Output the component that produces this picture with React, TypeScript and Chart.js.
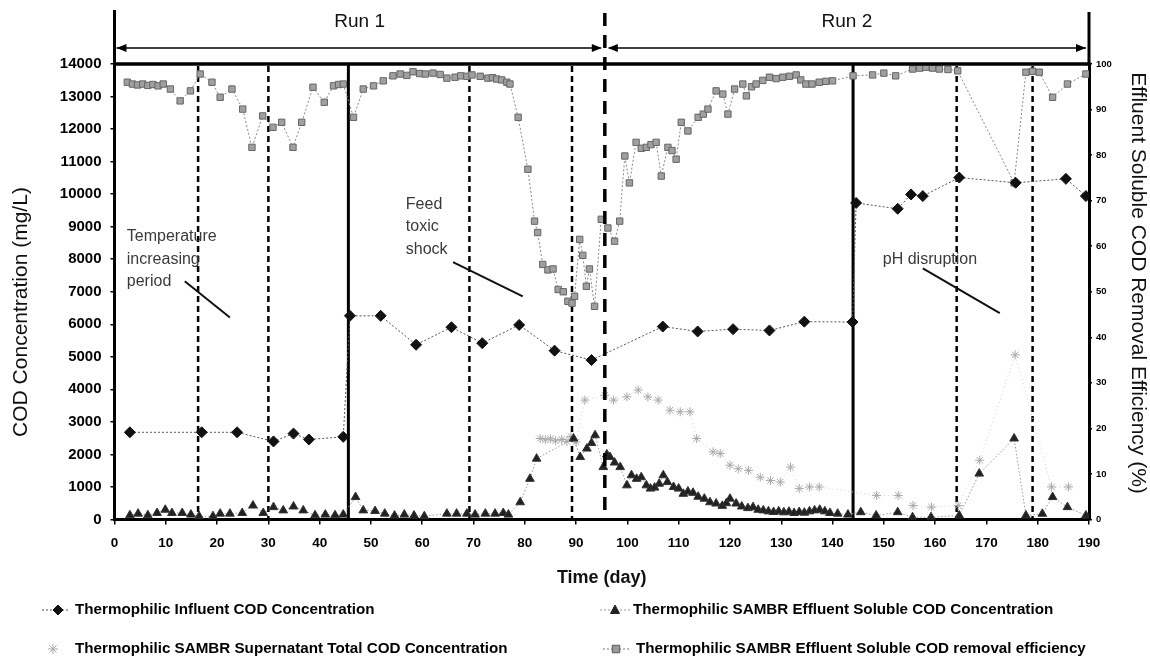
import React, { useEffect, useRef } from 'react';
import { Chart, registerables } from 'chart.js';

Chart.register(...registerables);

// ---- data ----
const influentDays = [3, 17, 23.9, 31, 34.9, 37.9, 44.6, 45.9, 51.9, 58.8, 65.7, 71.7, 78.9, 85.8, 93, 106.9, 113.7, 120.6, 127.7, 134.5, 143.9, 144.6, 152.7, 155.3, 157.6, 164.7, 175.7, 185.5, 189.4];
const influentCOD = [2680, 2680, 2680, 2400, 2640, 2460, 2540, 6260, 6260, 5370, 5910, 5420, 5980, 5190, 4900, 5930, 5780, 5850, 5810, 6080, 6070, 9730, 9550, 9990, 9940, 10510, 10350, 10470, 9940];

const effluentDays = [3, 4.6, 6.5, 8.3, 9.9, 11.2, 13.2, 14.9, 16.5, 19.2, 20.6, 22.5, 24.9, 27, 29, 31, 32.9, 34.9, 36.8, 39.1, 41.1, 43, 44.6,
  47, 48.5, 50.8, 52.7, 54.6, 56.5, 58.4, 60.4, 64.8, 66.7, 68.7, 70.3, 72.3, 74.2, 75.8, 76.8, 79.1, 81, 82.3,
  89.5, 90.8, 92.1, 93, 93.7, 95.3, 96, 96.6, 97.5, 98.6, 99.9, 100.8, 101.8, 102.7, 103.7, 104.5, 105.3, 106.2, 107, 107.8, 109, 110, 110.9, 111.8, 112.8, 113.8, 115, 116.1, 117.3, 118.5, 119.3, 120, 121.2, 122.3, 123.5, 124.5, 125.5, 126.5, 127.5, 128.5, 129.5, 130.5, 131.5, 132.5, 133.5, 134.5, 135.5, 136.5, 137.5, 138.5, 139.5, 141, 143,
  145.5, 148.5, 152.7, 155.6, 159.2, 164.7, 168.6, 175.4, 177.7, 180.9, 182.9, 185.8, 189.4];
const effluentCOD = [130, 180, 130, 200, 300, 200, 200, 150, 100, 100, 180, 180, 200, 430, 200, 380, 280, 400, 280, 130, 150, 130, 150,
  690, 280, 260, 180, 120, 150, 120, 100, 180, 180, 180, 150, 180, 180, 200, 150, 530, 1250, 1870,
  2490, 1920, 2180, 2350, 2590, 1610, 2000, 1920, 1750, 1610, 1050, 1360, 1250, 1300, 1050, 950, 980, 1100, 1360, 1150, 1000, 950, 790, 860, 820, 700, 640, 530, 490, 420, 500, 640, 490, 400, 350, 380, 300, 280, 250, 230, 250, 220, 240, 200, 230, 210, 250, 280, 300, 250, 200, 180, 150,
  225, 123, 225, 71, 71, 123, 1410, 2490, 123, 176, 690, 380, 123];

const supernatantDays = [83, 84, 85, 86, 87.2, 88.2, 89, 90, 91.7, 95.6, 97.3, 99.9, 102.1, 104, 106, 108.3, 110.3, 112.2, 113.5, 116.7, 118.1, 120, 121.6, 123.6, 125.9, 127.9, 129.8, 131.8, 133.5, 135.5, 137.4,
  148.6, 152.8, 155.7, 159.3, 164.5, 168.7, 175.6, 182.7, 186];
const supernatantCOD = [2490, 2450, 2480, 2420, 2460, 2400, 2550, 2380, 3670, 3820, 3670, 3770, 3980, 3770, 3670, 3360, 3310, 3310, 2490, 2080, 2030, 1670, 1560, 1510, 1300, 1200, 1150, 1610, 950, 1000, 1000,
  740, 740, 430, 380, 430, 1820, 5060, 1000, 1000];

const removalDays = [2.5, 3.5, 4.5, 5.5, 6.5, 7.5, 8.5, 9.5, 10.9, 12.8, 14.8, 16.7, 19, 20.6, 22.9, 25, 26.8, 28.9, 30.9, 32.6, 34.8, 36.5, 38.7, 40.9, 42.7, 43.7, 44.6,
  46.6, 48.5, 50.5, 52.4, 54.3, 55.7, 57, 58.2, 59.5, 60.6, 62.1, 63.5, 64.8, 66.4, 67.5, 68.7, 69.7, 71.3, 72.8, 73.7, 74.5, 75.5, 76.5, 77.1, 78.7, 80.6, 81.9, 82.5, 83.5, 84.5, 85.5, 86.5, 87.5, 88.4, 89.2, 89.7, 90.7, 91.3, 92, 92.6, 93.6, 94.9,
  96.2, 97.5, 98.5, 99.5, 100.4, 101.7, 102.7, 103.7, 104.6, 105.6, 106.6, 107.9, 108.7, 109.5, 110.5, 111.8, 113.8, 114.8, 115.7, 117.3, 118.6, 119.6, 120.9, 122.5, 123.2, 124.2, 125.1, 126.4, 127.7, 129, 130.3, 131.6, 132.9, 133.8, 134.8, 136, 137.4, 138.7, 140, 144,
  147.8, 150, 152.3, 155.6, 157, 158.2, 159.5, 160.8, 162.5, 164.4, 175.4, 177.7, 179, 180.3, 182.9, 185.8, 189.4];
const removalEff = [96.0, 95.6, 95.4, 95.6, 95.3, 95.5, 95.2, 95.6, 94.5, 91.9, 94.1, 97.8, 96.0, 92.7, 94.5, 90.1, 81.7, 88.6, 86.1, 87.2, 81.7, 87.2, 94.9, 91.6, 95.2, 95.5, 95.6,
  88.3, 94.5, 95.2, 96.3, 97.4, 97.8, 97.5, 98.3, 97.9, 97.8, 98.0, 97.7, 96.9, 97.1, 97.4, 97.3, 97.6, 97.3, 96.9, 97.0, 96.7, 96.5, 96.0, 95.6, 88.3, 76.9, 65.5, 63, 56, 54.8, 55, 50.5, 50, 47.9, 47.5, 49.0, 61.5, 58, 51.2, 55, 46.8, 65.9,
  64, 61.1, 65.5, 79.8, 73.9, 82.8, 81.5, 81.7, 82.3, 82.8, 75.4, 81.7, 81, 79.1, 87.2, 85.3, 88.3, 89, 90.1, 94.1, 93.4, 89.0, 94.5, 95.6, 93.0, 95, 95.6, 96.4, 97.1, 96.8, 97.1, 97.3, 97.6, 96.5, 95.6, 95.6, 96.0, 96.2, 96.3, 97.4,
  97.6, 98, 97.4, 98.9, 99.1, 99.3, 99.1, 98.9, 98.8, 98.5, 73.9, 98.2, 98.4, 98.2, 92.7, 95.6, 97.8];

// operating periods and events (days)
const phaseBoundaryDays = [45.6, 144];
const eventDays = [16.3, 30, 69.2, 89.2, 164.2, 179];
const runDividerDay = 95.6;
const runNames = ['Run 1', 'Run 2'];

const seriesNames = [
  'Thermophilic Influent COD Concentration',
  'Thermophilic SAMBR Effluent Soluble COD Concentration',
  'Thermophilic SAMBR Supernatant Total COD Concentration',
  'Thermophilic SAMBR Effluent Soluble COD removal efficiency',
];

// event notes: text lines anchored in (day, mg/L), pointer line endpoints
const notes = [
  { lines: ['Temperature', 'increasing', 'period'], day: 2.4, cod: [8710, 8000, 7320], from: [13.7, 7320], to: [22.5, 6210] },
  { lines: ['Feed', 'toxic', 'shock'], day: 56.8, cod: [9670, 8990, 8310], from: [66, 7910], to: [79.6, 6860] },
  { lines: ['pH disruption'], day: 149.8, cod: [8000], from: [157.6, 7720], to: [172.6, 6340] },
];

const pts = (xs: number[], ys: number[]) => xs.map((x, i) => ({ x, y: ys[i] }));

function hasFont(ctx: CanvasRenderingContext2D, family: string) {
  const s = 'abcdefghijklmnopqrstuvwxyz0123456789';
  ctx.font = `20px "${family}", monospace`;
  const a = ctx.measureText(s).width;
  ctx.font = '20px monospace';
  const b = ctx.measureText(s).width;
  return Math.abs(a - b) > 0.5;
}

function marker(ctx: CanvasRenderingContext2D, kind: string, x: number, y: number, r: number, fill: string, stroke: string) {
  ctx.save();
  ctx.fillStyle = fill;
  ctx.strokeStyle = stroke;
  ctx.lineWidth = 1;
  ctx.setLineDash([]);
  ctx.beginPath();
  if (kind === 'diamond') {
    ctx.moveTo(x, y - r); ctx.lineTo(x + r, y); ctx.lineTo(x, y + r); ctx.lineTo(x - r, y); ctx.closePath();
    ctx.fill(); ctx.stroke();
  } else if (kind === 'triangle') {
    ctx.moveTo(x, y - r); ctx.lineTo(x + r * 0.9, y + r * 0.7); ctx.lineTo(x - r * 0.9, y + r * 0.7); ctx.closePath();
    ctx.fill(); ctx.stroke();
  } else if (kind === 'square') {
    ctx.rect(x - r * 0.75, y - r * 0.75, r * 1.5, r * 1.5);
    ctx.fill(); ctx.stroke();
  } else {
    for (let k = 0; k < 4; k++) {
      const ang = (k * Math.PI) / 4;
      ctx.moveTo(x - Math.cos(ang) * r, y - Math.sin(ang) * r);
      ctx.lineTo(x + Math.cos(ang) * r, y + Math.sin(ang) * r);
    }
    ctx.stroke();
  }
  ctx.restore();
}

const overlayPlugin = {
  id: 'overlay',
  beforeDatasetsDraw(chart: any) {
    const { ctx, chartArea: a, scales } = chart;
    const xs = scales.x;
    ctx.save();
    ctx.strokeStyle = '#000';
    ctx.lineWidth = 3;
    phaseBoundaryDays.forEach((d) => {
      const px = xs.getPixelForValue(d);
      ctx.beginPath(); ctx.moveTo(px, a.top); ctx.lineTo(px, a.bottom); ctx.stroke();
    });
    ctx.lineWidth = 2.5;
    ctx.setLineDash([6, 4]);
    eventDays.forEach((d) => {
      const px = xs.getPixelForValue(d);
      ctx.beginPath(); ctx.moveTo(px, a.top + 2); ctx.lineTo(px, a.bottom); ctx.stroke();
    });
    ctx.restore();
  },
  afterDraw(chart: any) {
    const { ctx, chartArea: a, scales } = chart;
    const xs = scales.x;
    const ys = scales.y;
    ctx.save();
    ctx.strokeStyle = '#000';
    ctx.fillStyle = '#000';

    // frame top and axis extensions
    ctx.lineWidth = 3.5;
    ctx.beginPath(); ctx.moveTo(a.left - 1.5, a.top); ctx.lineTo(a.right + 1.5, a.top); ctx.stroke();
    ctx.lineWidth = 3;
    ctx.beginPath(); ctx.moveTo(a.left, 10); ctx.lineTo(a.left, a.top); ctx.stroke();
    ctx.beginPath(); ctx.moveTo(a.right, 12); ctx.lineTo(a.right, a.top); ctx.stroke();

    // run divider
    const dv = xs.getPixelForValue(runDividerDay);
    ctx.lineWidth = 3.5;
    ctx.setLineDash([13, 9]);
    ctx.beginPath(); ctx.moveTo(dv, 13); ctx.lineTo(dv, a.bottom); ctx.stroke();
    ctx.setLineDash([]);

    // run arrows
    const yA = 48;
    const head = (x: number, dir: number) => {
      ctx.beginPath();
      ctx.moveTo(x, yA);
      ctx.lineTo(x - dir * 10, yA - 4);
      ctx.lineTo(x - dir * 10, yA + 4);
      ctx.closePath();
      ctx.fill();
    };
    ctx.lineWidth = 1.5;
    ctx.beginPath(); ctx.moveTo(a.left + 2, yA); ctx.lineTo(dv - 4, yA); ctx.stroke();
    ctx.beginPath(); ctx.moveTo(dv + 4, yA); ctx.lineTo(a.right - 3, yA); ctx.stroke();
    head(a.left + 2, -1);
    head(dv - 3, 1);
    head(dv + 3, -1);
    head(a.right - 3, 1);

    ctx.font = '19px "Liberation Sans", Arial, sans-serif';
    ctx.textAlign = 'center';
    ctx.textBaseline = 'middle';
    ctx.fillStyle = '#111';
    ctx.fillText(runNames[0], (xs.getPixelForValue(0) + dv) / 2, 22);
    ctx.fillText(runNames[1], (xs.getPixelForValue(190) + dv) / 2, 22);

    // event notes
    ctx.font = '16px "Liberation Sans", Arial, sans-serif';
    ctx.textAlign = 'left';
    ctx.fillStyle = '#3a3a3a';
    notes.forEach((n) => {
      const px = xs.getPixelForValue(n.day);
      n.lines.forEach((t, i) => ctx.fillText(t, px, ys.getPixelForValue(n.cod[i])));
      ctx.strokeStyle = '#111';
      ctx.lineWidth = 2;
      ctx.beginPath();
      ctx.moveTo(xs.getPixelForValue(n.from[0]), ys.getPixelForValue(n.from[1]));
      ctx.lineTo(xs.getPixelForValue(n.to[0]), ys.getPixelForValue(n.to[1]));
      ctx.stroke();
    });

    // axis titles
    ctx.fillStyle = '#111';
    ctx.textAlign = 'center';
    ctx.font = 'bold 18px "Liberation Sans", Arial, sans-serif';
    ctx.fillText('Time (day)', (a.left + a.right) / 2, 578);
    ctx.font = '21px "Liberation Sans", Arial, sans-serif';
    ctx.save();
    ctx.translate(21, 312);
    ctx.rotate(-Math.PI / 2);
    ctx.fillText('COD Concentration (mg/L)', 0, 0);
    ctx.restore();
    ctx.save();
    ctx.translate(1138, 283);
    ctx.rotate(Math.PI / 2);
    ctx.fillText('Effluent Soluble COD Removal Efficiency (%)', 0, 0);
    ctx.restore();

    // legend
    const narrow = hasFont(ctx, 'Liberation Sans Narrow');
    const lf = narrow ? 'bold 18.5px "Liberation Sans Narrow"' : 'bold 15.2px "Liberation Sans", Arial, sans-serif';
    const items = [
      { x0: 42, x1: 70, mx: 58, tx: 75, y: 610, kind: 'diamond', fill: '#111', stroke: '#111', lineC: '#555' },
      { x0: 600, x1: 630, mx: 615, tx: 633, y: 610, kind: 'triangle', fill: '#222', stroke: '#222', lineC: '#999' },
      { x0: 53, x1: 53, mx: 53, tx: 75, y: 649, kind: 'star', fill: '#ddd', stroke: '#aaa', lineC: '#ddd' },
      { x0: 603, x1: 630, mx: 616, tx: 636, y: 649, kind: 'square', fill: '#9a9a9a', stroke: '#555', lineC: '#777' },
    ];
    items.forEach((it, i) => {
      if (it.x1 > it.x0) {
        ctx.strokeStyle = it.lineC;
        ctx.lineWidth = 1;
        ctx.setLineDash([2, 2]);
        ctx.beginPath(); ctx.moveTo(it.x0, it.y); ctx.lineTo(it.x1, it.y); ctx.stroke();
        ctx.setLineDash([]);
      }
      marker(ctx, it.kind, it.mx, it.y, 5, it.fill, it.stroke);
      ctx.font = lf;
      ctx.fillStyle = '#000';
      ctx.textAlign = 'left';
      ctx.textBaseline = 'middle';
      ctx.fillText(seriesNames[i], it.tx, it.y);
    });
    ctx.restore();
  },
};

export default function App() {
  const ref = useRef<HTMLCanvasElement | null>(null);

  useEffect(() => {
    document.body.style.margin = '0';
    const canvas = ref.current;
    if (!canvas) return;
    const tickFont = (size: number) => ({ family: '"Liberation Sans", Arial, sans-serif', size, weight: 'bold' as const });
    const chart = new Chart(canvas, {
      type: 'line',
      data: {
        datasets: [
          {
            label: seriesNames[0],
            data: pts(influentDays, influentCOD),
            yAxisID: 'y',
            borderColor: '#555',
            borderWidth: 1,
            borderDash: [2, 2],
            pointStyle: 'rectRot',
            pointRadius: 5.5,
            pointBackgroundColor: '#111',
            pointBorderColor: '#111',
            pointBorderWidth: 1,
            order: 1,
          },
          {
            label: seriesNames[1],
            data: pts(effluentDays, effluentCOD),
            yAxisID: 'y',
            borderColor: '#999',
            borderWidth: 1,
            borderDash: [1.5, 2],
            pointStyle: 'triangle',
            pointRadius: 5,
            pointBackgroundColor: '#222',
            pointBorderColor: '#333',
            pointBorderWidth: 1,
            order: 2,
          },
          {
            label: seriesNames[2],
            data: pts(supernatantDays, supernatantCOD),
            yAxisID: 'y',
            borderColor: '#d4d4d4',
            borderWidth: 1,
            borderDash: [1, 3],
            pointStyle: 'star',
            pointRadius: 4.5,
            pointBackgroundColor: '#ddd',
            pointBorderColor: '#a8a8a8',
            pointBorderWidth: 1,
            order: 3,
          },
          {
            label: seriesNames[3],
            data: pts(removalDays, removalEff),
            yAxisID: 'y1',
            borderColor: '#888',
            borderWidth: 1,
            borderDash: [2, 2],
            pointStyle: 'rect',
            pointRadius: 4.5,
            pointBackgroundColor: '#a0a0a0',
            pointBorderColor: '#666',
            pointBorderWidth: 1,
            order: 4,
          },
        ],
      },
      options: {
        responsive: false,
        animation: false,
        devicePixelRatio: 1,
        layout: { padding: { top: 64, left: 0, right: 0, bottom: 0 } },
        plugins: { legend: { display: false }, tooltip: { enabled: false } },
        elements: { line: { tension: 0 } },
        scales: {
          x: {
            type: 'linear',
            min: 0,
            max: 190,
            ticks: { stepSize: 10, font: tickFont(13.5), color: '#000', padding: 11, maxRotation: 0, autoSkip: false },
            grid: { display: true, drawOnChartArea: false, drawTicks: true, tickLength: 5, color: '#000', lineWidth: 1.5 },
            border: { display: true, width: 3, color: '#000' },
            afterFit: (s: any) => { s.height = 144.5; },
          },
          y: {
            position: 'left',
            min: 0,
            max: 14000,
            ticks: { stepSize: 1000, font: tickFont(15), color: '#000', padding: 9, callback: (v: any) => String(v) },
            grid: { display: true, drawOnChartArea: false, drawTicks: true, tickLength: 4, color: '#000', lineWidth: 1.5 },
            border: { display: true, width: 3, color: '#000' },
            afterFit: (s: any) => { s.width = 114.5; },
          },
          y1: {
            position: 'right',
            min: 0,
            max: 100,
            ticks: { stepSize: 10, font: tickFont(9.5), color: '#000', padding: 4, callback: (v: any) => String(v) },
            grid: { display: true, drawOnChartArea: false, drawTicks: true, tickLength: 3, color: '#000', lineWidth: 1.5 },
            border: { display: true, width: 3, color: '#000' },
            afterFit: (s: any) => { s.width = 61; },
          },
        },
      },
      plugins: [overlayPlugin],
    });
    return () => chart.destroy();
  }, []);

  return (
    <div style={{ width: 1150, height: 664, background: '#fff' }}>
      <canvas ref={ref} width={1150} height={664} style={{ display: 'block' }} />
    </div>
  );
}
